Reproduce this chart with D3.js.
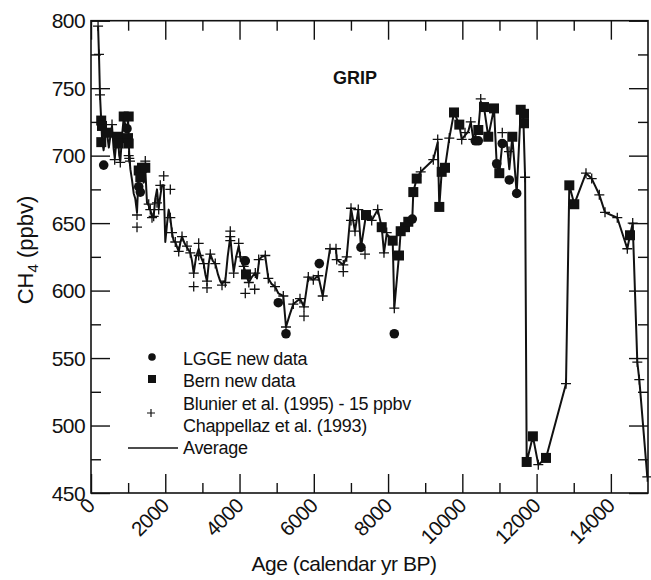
<!DOCTYPE html>
<html>
<head>
<meta charset="utf-8">
<script src="https://cdn.jsdelivr.net/npm/d3@7"></script>
<style>
  html, body { margin: 0; padding: 0; background: #fff; }
  svg { display: block; font-family: "Liberation Sans", Arial, Helvetica, sans-serif; }
</style>
</head>
<body>
<svg id="chart" width="651" height="580"></svg>
<script>
// GRIP methane record: [age (calendar yr BP), CH4 (ppbv)]
const averageSeries = [
  [190,796],[215,775],[242,745],[275,726],[300,711],[340,704],[390,718],[431,717],[480,706],[530,716],
  [566,722],[610,705],[640,698],[690,712],[727,714],[760,700],[790,696],[840,716],[881,728],[930,722],
  [969,719],[1000,727],[1015,712],[1031,700],[1060,690],[1104,682],[1150,672],[1193,668],[1239,658],[1285,688],
  [1328,684],[1373,690],[1420,680],[1462,690],[1508,665],[1554,663],[1597,660],[1643,655],[1688,655],[1730,668],
  [1777,675],[1823,661],[1866,670],[1910,678],[1958,678],[2001,636],[2050,650],[2092,660],[2136,654],[2181,643],
  [2225,637],[2270,636],[2320,632],[2362,629],[2410,636],[2451,640],[2520,635],[2585,632],[2674,628],[2720,622],
  [2766,613],[2830,625],[2900,631],[2960,625],[3035,620],[3080,612],[3124,607],[3170,620],[3213,627],[3280,622],
  [3347,620],[3420,612],[3480,607],[3528,605],[3580,607],[3617,607],[3680,625],[3751,640],[3800,625],[3843,614],
  [3910,625],[3978,633],[4021,625],[4070,620],[4112,618],[4174,612],[4250,606],[4330,610],[4417,613],[4470,609],
  [4530,623],[4600,625],[4690,626],[4775,609],[4860,605],[4955,603],[5044,598],[5179,596],[5251,573],[5350,582],
  [5448,590],[5628,594],[5736,588],[5852,610],[5987,608],[6121,611],[6240,596],[6436,631],[6598,631],[6617,623],
  [6794,619],[6886,625],[7002,661],[7110,644],[7198,660],[7271,632],[7406,656],[7559,652],[7721,660],[7829,647],
  [7890,628],[7963,642],[8125,637],[8168,587],[8294,626],[8340,644],[8456,647],[8545,651],[8652,653],[8680,673],
  [8771,683],[8879,688],[9218,697],[9337,710],[9380,662],[9444,688],[9533,691],[9649,713],[9776,732],[9918,723],
  [9983,712],[10072,715],[10161,718],[10226,725],[10296,712],[10430,719],[10495,740],[10583,736],[10699,714],[10853,735],
  [10925,694],[10996,687],[11076,709],[11195,710],[11265,690],[11346,714],[11464,672],[11572,734],[11640,731],[11690,684],
  [11733,473],[11900,492],[12046,471],[12253,476],[12792,531],[12881,678],[13015,664],[13330,687],[13484,683],[13689,671],
  [13842,658],[14173,654],[14443,631],[14515,641],[14588,650],[14712,547],[14766,534],[14981,462]
];

const lggeSeries = [
  [342,693],[969,720],[1285,677],[1328,673],[4155,622],[5044,591],[5251,568],[6148,620],[7271,632],[8168,568],
  [8652,653],[10350,711],[10430,711],[10925,694],[11076,709],[11265,682],[11464,672]
];

const bernSeries = [
  [275,726],[296,722],[277,710],[431,717],[727,714],[746,709],[881,729],[1015,729],[996,713],[1015,709],
  [1285,689],[1328,684],[1373,691],[1462,691],[4174,612],[7406,656],[7829,647],[8125,637],[8294,626],[8340,644],
  [8456,647],[8545,651],[8680,673],[8771,683],[9380,662],[9444,688],[9533,691],[9776,732],[9918,723],[10430,719],
  [10583,736],[10699,714],[10853,735],[10996,687],[11346,714],[11572,734],[11661,731],[11661,724],[11733,473],[11900,492],
  [12253,476],[12881,678],[13015,664],[14515,641]
];

const blunierChappellazSeries = [
  [190,796],[215,775],[242,745],[566,723],[638,697],[789,695],[1015,700],[1031,698],[1050,696],[1239,647],
  [1239,656],[1462,696],[1554,664],[1597,660],[1643,654],[1688,655],[1777,665],[1823,660],[1866,678],[1958,685],
  [2136,675],[2136,654],[2181,643],[2270,636],[2362,629],[2451,640],[2585,633],[2674,628],[2766,613],[2766,603],
  [2900,635],[2900,626],[3035,620],[3124,607],[3124,602],[3213,627],[3347,620],[3528,604],[3617,606],[3751,644],
  [3751,640],[3751,637],[3843,613],[3978,635],[4021,625],[4112,618],[4155,598],[4250,606],[4408,601],[4425,613],
  [4516,623],[4694,626],[4775,609],[4955,603],[5179,596],[5251,573],[5448,590],[5628,594],[5736,588],[5736,581],
  [5852,610],[5987,608],[6121,611],[6240,596],[6436,631],[6598,631],[6617,623],[6794,619],[6794,614],[6886,625],
  [7002,661],[7002,652],[7110,644],[7198,660],[7379,627],[7559,652],[7721,660],[7890,628],[7963,643],[8168,587],
  [8879,688],[9218,697],[9337,712],[9649,713],[9983,712],[10072,717],[10226,725],[10296,712],[10495,742],[11076,717],
  [11257,703],[11690,684],[12046,471],[12792,531],[13330,687],[13484,683],[13689,671],[13842,658],[14173,654],[14443,631],
  [14588,650],[14712,547],[14766,534],[14981,462]
];

const xMajorTicks = [0, 2000, 4000, 6000, 8000, 10000, 12000, 14000];
const xMinorTicks = [1000, 3000, 5000, 7000, 9000, 11000, 13000];
const yMajorTicks = [450, 500, 550, 600, 650, 700, 750, 800];
const yMinorTicks = [475, 525, 575, 625, 675, 725, 775];

const legendLabels = ["LGGE new data", "Bern new data", "Blunier et al. (1995) - 15 ppbv", "Chappellaz et al. (1993)", "Average"];

const svg = d3.select("#chart");
const plot = { left: 91, right: 648, top: 20.7, bottom: 493 };

const x = d3.scaleLinear().domain([0, 15000]).range([plot.left, plot.right]);
const y = d3.scaleLinear().domain([450, 800]).range([plot.bottom, plot.top]);

const ink = "#111";
const MAJ = 19, MIN = 10;

// Axes with inward ticks on all four sides
function styleAxis(g) {
  g.select(".domain").remove();
  g.selectAll(".tick line").attr("stroke", ink).attr("stroke-width", 1.4);
  g.selectAll(".tick text").remove();
}
svg.append("g").attr("transform", `translate(0,${plot.bottom})`)
  .call(d3.axisBottom(x).tickValues(xMajorTicks).tickSize(-MAJ)).call(styleAxis);
svg.append("g").attr("transform", `translate(0,${plot.bottom})`)
  .call(d3.axisBottom(x).tickValues(xMinorTicks).tickSize(-MIN)).call(styleAxis);
svg.append("g").attr("transform", `translate(0,${plot.top})`)
  .call(d3.axisTop(x).tickValues(xMajorTicks).tickSize(-MAJ)).call(styleAxis);
svg.append("g").attr("transform", `translate(0,${plot.top})`)
  .call(d3.axisTop(x).tickValues(xMinorTicks).tickSize(-MIN)).call(styleAxis);
svg.append("g").attr("transform", `translate(${plot.left},0)`)
  .call(d3.axisLeft(y).tickValues(yMajorTicks).tickSize(-MAJ)).call(styleAxis);
svg.append("g").attr("transform", `translate(${plot.left},0)`)
  .call(d3.axisLeft(y).tickValues(yMinorTicks).tickSize(-MIN)).call(styleAxis);
svg.append("g").attr("transform", `translate(${plot.right},0)`)
  .call(d3.axisRight(y).tickValues(yMajorTicks).tickSize(-MAJ)).call(styleAxis);
svg.append("g").attr("transform", `translate(${plot.right},0)`)
  .call(d3.axisRight(y).tickValues(yMinorTicks).tickSize(-MIN)).call(styleAxis);

// Frame
svg.append("rect")
  .attr("x", plot.left).attr("y", plot.top)
  .attr("width", plot.right - plot.left).attr("height", plot.bottom - plot.top)
  .attr("fill", "none").attr("stroke", ink).attr("stroke-width", 1.6);

// Y tick labels
svg.append("g").selectAll("text").data(yMajorTicks).join("text")
  .attr("x", plot.left - 6).attr("y", d => y(d))
  .attr("dy", "0.36em").attr("text-anchor", "end")
  .attr("font-size", 21).attr("letter-spacing", -0.6).attr("fill", ink)
  .text(d => d);

// X tick labels, rotated
svg.append("g").selectAll("text").data(xMajorTicks).join("text")
  .attr("transform", d => `translate(${x(d) + 5},${plot.bottom + 14}) rotate(-45)`)
  .attr("text-anchor", "end")
  .attr("font-size", 20.5).attr("letter-spacing", -0.6).attr("fill", ink)
  .text(d => d);

// Axis titles
svg.append("text")
  .attr("x", 344).attr("y", 571).attr("text-anchor", "middle")
  .attr("font-size", 21).attr("letter-spacing", -0.5).attr("fill", ink)
  .text("Age (calendar yr BP)");

const yTitle = svg.append("text")
  .attr("transform", "translate(33,250) rotate(-90)")
  .attr("text-anchor", "middle").attr("font-size", 22).attr("fill", ink);
yTitle.append("tspan").text("CH");
yTitle.append("tspan").attr("font-size", 15).attr("dy", 5).text("4");
yTitle.append("tspan").attr("dy", -5).text(" (ppbv)");

// Panel title
svg.append("text")
  .attr("x", 355).attr("y", 84).attr("text-anchor", "middle")
  .attr("font-size", 18).attr("font-weight", "bold").attr("fill", ink)
  .text("GRIP");

// Average line
const line = d3.line().x(d => x(d[0])).y(d => y(d[1]));
svg.append("path").datum(averageSeries)
  .attr("d", line).attr("fill", "none")
  .attr("stroke", ink).attr("stroke-width", 2).attr("stroke-linejoin", "round");

// Marker shapes
const plusPath = (cx, cy, s) => `M${cx - s},${cy}H${cx + s}M${cx},${cy - s}V${cy + s}`;

svg.append("g").selectAll("path").data(blunierChappellazSeries).join("path")
  .attr("d", d => plusPath(x(d[0]), y(d[1]), 5))
  .attr("stroke", ink).attr("stroke-width", 1.3).attr("fill", "none");

svg.append("g").selectAll("rect").data(bernSeries).join("rect")
  .attr("x", d => x(d[0]) - 5).attr("y", d => y(d[1]) - 5)
  .attr("width", 10).attr("height", 10).attr("fill", ink);

svg.append("g").selectAll("circle").data(lggeSeries).join("circle")
  .attr("cx", d => x(d[0])).attr("cy", d => y(d[1])).attr("r", 4.8)
  .attr("fill", ink);

// Legend
const lg = svg.append("g");
lg.append("circle").attr("cx", 152).attr("cy", 357).attr("r", 3.8).attr("fill", ink);
lg.append("rect").attr("x", 148).attr("y", 375).attr("width", 8).attr("height", 8).attr("fill", ink);
lg.append("path").attr("d", plusPath(151, 413, 4)).attr("stroke", ink).attr("stroke-width", 1.2);
lg.append("line").attr("x1", 128).attr("x2", 178).attr("y1", 448).attr("y2", 448)
  .attr("stroke", ink).attr("stroke-width", 1.3);
const legendY = [365, 387, 410, 432, 454];
lg.selectAll("text").data(legendLabels).join("text")
  .attr("x", 183).attr("y", (d, i) => legendY[i])
  .attr("font-size", 18).attr("letter-spacing", -0.3).attr("fill", ink)
  .text(d => d);
</script>
</body>
</html>
